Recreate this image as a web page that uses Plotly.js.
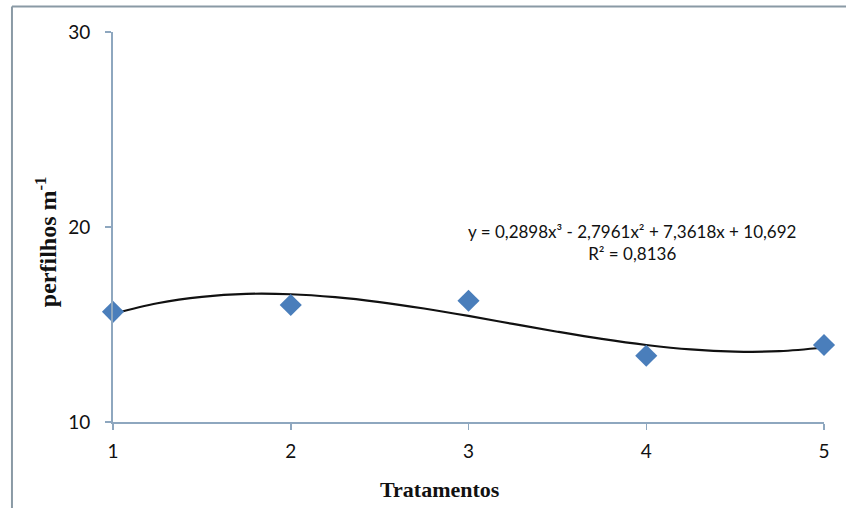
<!DOCTYPE html>
<html>
<head>
<meta charset="utf-8">
<script src="https://cdn.plot.ly/plotly-3.0.1.min.js"></script>
<style>
  html, body { margin: 0; padding: 0; background: #ffffff; }
  #chart { width: 846px; height: 508px; }
</style>
</head>
<body>
<div id="chart"></div>
<script>
// Observed data (tratamentos 1..5)
const tratamentos = [1, 2, 3, 4, 5];
const perfilhos = [15.65, 16.0, 16.22, 13.4, 13.95];

// Trendline (polynomial order 3 fit)
const trendX = [1, 1.25, 1.5, 1.75, 2, 2.25, 2.5, 2.75, 3, 3.25, 3.5, 3.75, 4, 4.25, 4.5, 4.75, 5];
const trendY = [15.55, 16.09, 16.42, 16.57, 16.55, 16.40, 16.15, 15.82, 15.44, 15.03, 14.63, 14.26, 13.95, 13.72, 13.61, 13.63, 13.82];

const xTickVals = [1, 2, 3, 4, 5];
const xTickText = ['1', '2', '3', '4', '5'];
const yTickVals = [10, 20, 30];
const yTickText = ['10', '20', '30'];

const equationText = 'y = 0,2898x³ - 2,7961x² + 7,3618x + 10,692<br>R² = 0,8136';

const axisColor = '#8ea7bf';
const tickFont = { family: 'Lato, "Open Sans", sans-serif', size: 19, color: '#111111' };

const traces = [
  {
    x: trendX, y: trendY, type: 'scatter', mode: 'lines',
    line: { color: '#111111', width: 2.2, shape: 'spline' },
    hoverinfo: 'skip', showlegend: false, cliponaxis: false
  },
  {
    x: tratamentos, y: perfilhos, type: 'scatter', mode: 'markers',
    marker: { symbol: 'diamond', size: 17, color: '#4a7ebb' },
    showlegend: false, cliponaxis: false
  }
];

const layout = {
  width: 846, height: 508,
  margin: { l: 113, r: 22, t: 32, b: 86 },
  paper_bgcolor: '#ffffff', plot_bgcolor: '#ffffff',
  showlegend: false,
  xaxis: {
    range: [1, 5], tickvals: xTickVals, ticktext: xTickText,
    showgrid: false, zeroline: false,
    showline: true, linecolor: axisColor, linewidth: 2,
    ticks: 'outside', ticklen: 6, tickwidth: 1.5, tickcolor: axisColor,
    ticklabelstandoff: 5,
    tickfont: tickFont
  },
  yaxis: {
    range: [10, 30], tickvals: yTickVals, ticktext: yTickText,
    showgrid: false, zeroline: false,
    showline: true, linecolor: axisColor, linewidth: 2,
    ticks: 'outside', ticklen: 6, tickwidth: 1.5, tickcolor: axisColor,
    ticklabelstandoff: 11,
    tickfont: tickFont
  },
  annotations: [
    {
      xref: 'paper', yref: 'paper', x: 0.73, y: 0.459,
      xanchor: 'center', yanchor: 'middle', showarrow: false,
      text: equationText, align: 'center',
      font: { family: 'Lato, "Open Sans", sans-serif', size: 17, color: '#111111' }
    },
    {
      xref: 'paper', yref: 'paper', x: 0.46, y: -0.172,
      xanchor: 'center', yanchor: 'middle', showarrow: false,
      text: '<b>Tratamentos</b>',
      font: { family: '"Liberation Serif", "Times New Roman", serif', size: 22, color: '#111111' }
    },
    {
      xref: 'paper', yref: 'paper', x: -0.094, y: 0.4615,
      xanchor: 'center', yanchor: 'middle', showarrow: false, textangle: -90,
      text: '<b>perfilhos m<sup>-1</sup></b>',
      font: { family: '"Liberation Serif", "Times New Roman", serif', size: 24, color: '#111111' }
    }
  ],
  shapes: [
    { type: 'line', xref: 'paper', yref: 'paper', x0: -0.1421, x1: 1.031, y0: 1.0654, y1: 1.0654,
      line: { color: '#8a9aa5', width: 2 } },
    { type: 'line', xref: 'paper', yref: 'paper', x0: -0.1421, x1: -0.1421, y0: 1.0654, y1: -0.2205,
      line: { color: '#8a9aa5', width: 2 } }
  ]
};

Plotly.newPlot('chart', traces, layout, { displayModeBar: false, staticPlot: true });
</script>
</body>
</html>
